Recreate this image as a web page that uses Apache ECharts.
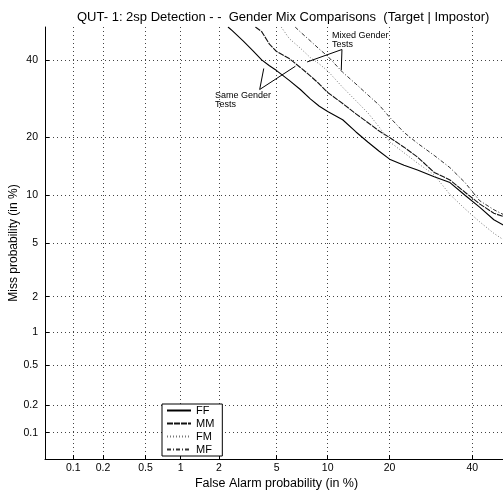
<!DOCTYPE html>
<html><head><meta charset="utf-8">
<script src="https://cdn.jsdelivr.net/npm/echarts@6/dist/echarts.min.js"></script>
<style>html,body{margin:0;padding:0;background:#fff}#c{width:503px;height:495px}</style>
</head><body><div id="c"></div>
<script>
// ---- data (percent) ----
const xTicks = [0.1, 0.2, 0.5, 1, 2, 5, 10, 20, 40];
const yTicks = [0.1, 0.2, 0.5, 1, 2, 5, 10, 20, 40];
const axisMin = 0.05, axisMax = 50;
const seriesNames = ['FF', 'MM', 'FM', 'MF'];

const ffFA   = [2.33, 2.5, 3, 3.5, 4, 4.5, 5, 6, 7, 8, 9, 10, 12, 14, 16, 18, 20, 23, 26, 30, 34, 38, 42, 46, 49];
const ffMiss = [50, 48.9, 45.7, 42.8, 40.1, 38.4, 37.0, 34.2, 31.7, 29.2, 27.3, 26.0, 24.0, 21.2, 19.0, 17.2, 15.7, 14.6, 13.8, 12.7, 11.8, 10.0, 8.5, 7.1, 6.5];

const mmFA   = [3.63, 4, 4.5, 5, 6, 7, 8, 9, 10, 12, 14, 16, 18, 20, 23, 26, 30, 34, 38, 42, 46, 49];
const mmMiss = [50, 48.6, 44.8, 42.6, 40.5, 37.9, 35.5, 33.2, 30.9, 28.0, 25.4, 23.3, 21.4, 20.0, 18.0, 16.1, 13.4, 12.2, 10.4, 8.9, 7.8, 7.4];

const fmFA   = [5.35, 6, 7, 8, 9, 10, 12, 14, 16, 18, 20, 23, 26, 30, 34, 38, 42, 46, 49];
const fmMiss = [50, 46.5, 43.6, 40.8, 38.9, 36.9, 32.3, 28.7, 25.6, 22.3, 19.1, 16.9, 15.0, 13.0, 10.1, 8.3, 6.9, 5.8, 5.2];

const mfFA   = [6.52, 7, 8, 9, 10, 12, 14, 16, 18, 20, 23, 26, 30, 34, 38, 42, 46, 49];
const mfMiss = [50, 48.5, 45.8, 43.3, 41.2, 36.5, 33.2, 30.2, 27.6, 24.6, 21.1, 18.8, 16.4, 14.2, 11.8, 9.3, 8.2, 7.6];

// annotation pointer lines: [fromFA, fromMiss, toFA, toMiss]
const mixedPointers = [[11.9, 43.2, 7.67, 39.5], [11.9, 43.2, 11.8, 37.1]];
const samePointers  = [[3.88, 31.7, 4.13, 37.6], [3.88, 31.7, 6.54, 38.25]];

// ---- probit (inverse normal CDF, Acklam) ----
function probit(p){
  const a=[-3.969683028665376e+01,2.209460984245205e+02,-2.759285104469687e+02,1.383577518672690e+02,-3.066479806614716e+01,2.506628277459239e+00];
  const b=[-5.447609879822406e+01,1.615858368580409e+02,-1.556989798598866e+02,6.680131188771972e+01,-1.328068155288572e+01];
  const c=[-7.784894002430293e-03,-3.223964580411365e-01,-2.400758277161838e+00,-2.549732539343734e+00,4.374664141464968e+00,2.938163982698783e+00];
  const d=[7.784695709041462e-03,3.224671290700398e-01,2.445134137142996e+00,3.754408661907416e+00];
  const pl=0.02425, ph=1-pl; let q,r;
  if(p<pl){q=Math.sqrt(-2*Math.log(p));return (((((c[0]*q+c[1])*q+c[2])*q+c[3])*q+c[4])*q+c[5])/((((d[0]*q+d[1])*q+d[2])*q+d[3])*q+1);}
  if(p<=ph){q=p-0.5;r=q*q;return (((((a[0]*r+a[1])*r+a[2])*r+a[3])*r+a[4])*r+a[5])*q/(((((b[0]*r+b[1])*r+b[2])*r+b[3])*r+b[4])*r+1);}
  q=Math.sqrt(-2*Math.log(1-p));return -(((((c[0]*q+c[1])*q+c[2])*q+c[3])*q+c[4])*q+c[5])/((((d[0]*q+d[1])*q+d[2])*q+d[3])*q+1);
}
const pz = v => probit(v / 100);
function fmtFor(ticks){
  return function(v){
    for (const t of ticks) if (Math.abs(pz(t) - v) < 1e-6) return String(t);
    return '';
  };
}
const toPts = (fa, miss) => fa.map((v, i) => [pz(v), pz(miss[i])]);
const toLines = arr => arr.map(l => [{coord: [pz(l[0]), pz(l[1])]}, {coord: [pz(l[2]), pz(l[3])]}]);

const FONT = 'Liberation Sans';
const chart = echarts.init(document.getElementById('c'), null, {renderer: 'canvas'});
const gridLine = {show: true, lineStyle: {color: '#444', type: [1, 3], width: 1}};

function lineSeries(name, fa, miss, color, width, type, extra){
  return Object.assign({
    name: name, type: 'line', symbol: 'none', symbolSize: 0, showSymbol: false,
    data: toPts(fa, miss),
    itemStyle: {color: color},
    lineStyle: {color: color, width: width, type: type}
  }, extra || {});
}

chart.setOption({
  animation: false,
  backgroundColor: '#fff',
  title: {
    text: 'QUT- 1: 2sp Detection - -  Gender Mix Comparisons  (Target | Impostor)',
    left: 72, top: 6,
    textStyle: {fontFamily: FONT, fontSize: 13, fontWeight: 'normal', color: '#000'}
  },
  grid: {left: 45, top: 27, width: 463, height: 432, containLabel: false, outerBoundsMode: 'none'},
  xAxis: {
    type: 'value', min: pz(axisMin), max: pz(axisMax),
    axisLine: {show: true, onZero: false, lineStyle: {color: '#000', width: 1}},
    axisTick: {show: true, inside: true, length: 4, customValues: xTicks.map(pz), lineStyle: {color: '#000'}},
    axisLabel: {customValues: xTicks.map(pz), formatter: fmtFor(xTicks), color: '#000', fontFamily: FONT, fontSize: 10.5, margin: 4},
    splitLine: gridLine,
    name: 'False Alarm probability (in %)', nameLocation: 'middle', nameGap: 18, nameMoveOverlap: false,
    nameTextStyle: {fontFamily: FONT, fontSize: 12.5, color: '#000'}
  },
  yAxis: {
    type: 'value', min: pz(axisMin), max: pz(axisMax),
    axisLine: {show: true, onZero: false, lineStyle: {color: '#000', width: 1}},
    axisTick: {show: true, inside: true, length: 4, customValues: yTicks.map(pz), lineStyle: {color: '#000'}},
    axisLabel: {customValues: yTicks.map(pz), formatter: fmtFor(yTicks), color: '#000', fontFamily: FONT, fontSize: 10.5, margin: 7},
    splitLine: gridLine,
    name: 'Miss probability (in %)', nameLocation: 'middle', nameGap: 25, nameMoveOverlap: false,
    nameTextStyle: {fontFamily: FONT, fontSize: 12, color: '#000'}
  },
  legend: {
    data: seriesNames, orient: 'vertical', left: 162, top: 404,
    itemWidth: 24, itemHeight: 10, itemGap: 2,
    padding: [1, 8, 1, 4], borderColor: '#000', borderWidth: 1, backgroundColor: '#fff',
    itemStyle: {opacity: 0, borderWidth: 0},
    textStyle: {fontFamily: FONT, fontSize: 11, color: '#000'}
  },
  graphic: [
    {type: 'text', left: 332, top: 31, z: 10, style: {text: 'Mixed Gender\nTests', font: '9px "Liberation Sans"', fill: '#000', lineHeight: 9}},
    {type: 'text', left: 215, top: 91, z: 10, style: {text: 'Same Gender\nTests', font: '9px "Liberation Sans"', fill: '#000', lineHeight: 9}}
  ],
  series: [
    lineSeries('FF', ffFA, ffMiss, '#000', 1.1, 'solid', {
      markLine: {silent: true, symbol: 'none', label: {show: false}, lineStyle: {color: '#000', type: 'solid', width: 1},
        data: toLines(mixedPointers).concat(toLines(samePointers))}}),
    lineSeries('MM', mmFA, mmMiss, '#111', 1.1, [6, 1]),
    lineSeries('FM', fmFA, fmMiss, '#777', 1, [1, 2]),
    lineSeries('MF', mfFA, mfMiss, '#333', 1, [4, 2, 1, 2])
  ]
});
</script></body></html>
